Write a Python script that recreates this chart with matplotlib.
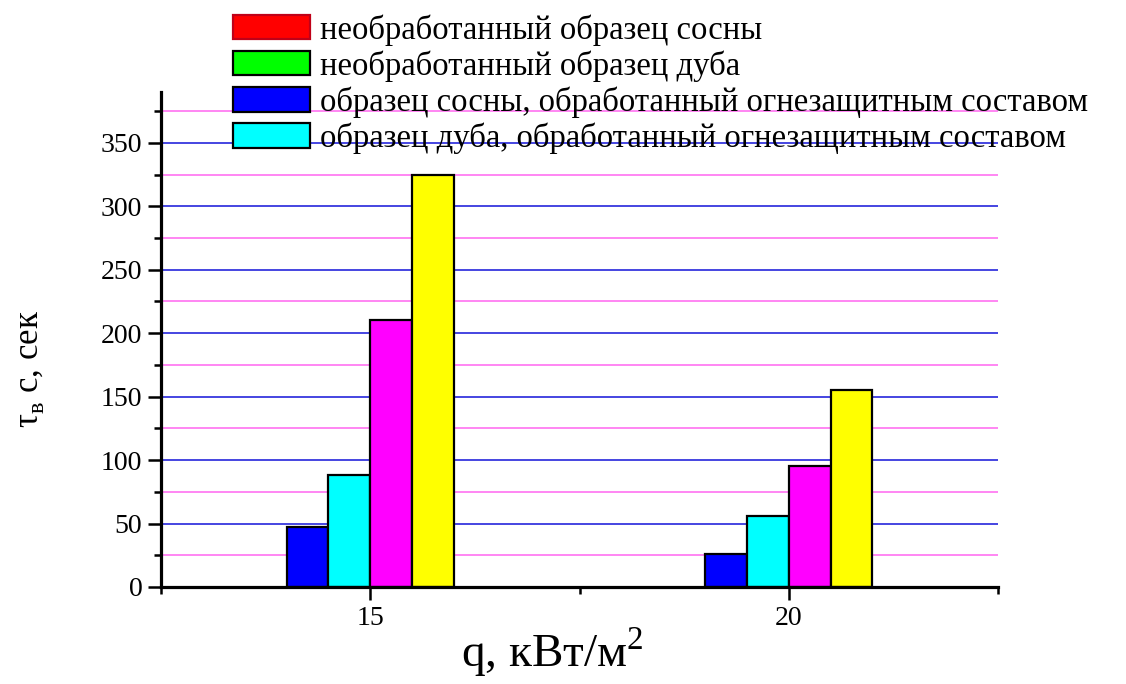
import matplotlib
matplotlib.use("Agg")
import matplotlib.pyplot as plt
from matplotlib.patches import Patch
from matplotlib.ticker import FixedLocator, NullFormatter
import numpy as np

# Heat flux levels, kW/m^2
q_values = [15, 20]
q_labels = ["15", "20"]

# Ignition time, s
pine_treated = [47, 26]
oak_treated = [88, 56]
pine_untreated = [210, 95]
oak_untreated = [325, 155]

series = [pine_treated, oak_treated, pine_untreated, oak_untreated]
bar_colors = ["#0000ff", "#00ffff", "#ff00ff", "#ffff00"]
bar_offsets = [-1.0, -0.5, 0.0, 0.5]
bar_width = 0.5

legend_labels = [
    "необработанный образец сосны",
    "необработанный образец дуба",
    "образец сосны, обработанный огнезащитным составом",
    "образец дуба, обработанный огнезащитным составом",
]
legend_colors = ["#ff0000", "#00ff00", "#0000ff", "#00ffff"]
legend_edges = ["#c00018", "black", "black", "black"]

plt.rcParams["font.family"] = ["Liberation Serif", "DejaVu Serif"]

fig = plt.figure(figsize=(11.26, 6.84), dpi=100)
ax = fig.add_axes([161 / 1126, 1 - 587 / 684, (998 - 161) / 1126, (587 - 92) / 684])

# horizontal guide lines: blue at major values, pink at the half-steps
for v in np.arange(50, 351, 50):
    ax.axhline(v, color="#1414d8", lw=1.1, zorder=1)
for v in np.arange(25, 376, 50):
    ax.axhline(v, color="#ff66f0", lw=1.1, zorder=1)

x = np.array(q_values, dtype=float)
for vals, col, off in zip(series, bar_colors, bar_offsets):
    ax.bar(x + off, vals, width=bar_width, align="edge", color=col,
           edgecolor="black", linewidth=1.6, zorder=3)

ax.set_xlim(12.5, 22.5)
ax.set_ylim(0, 390)

ax.yaxis.set_major_locator(FixedLocator(np.arange(0, 351, 50)))
ax.yaxis.set_minor_locator(FixedLocator(np.arange(25, 376, 50)))
ax.xaxis.set_major_locator(FixedLocator(q_values))
ax.xaxis.set_minor_locator(FixedLocator([12.5, 17.5, 22.5]))
ax.set_xticklabels(q_labels)
ax.xaxis.set_minor_formatter(NullFormatter())

for side in ["top", "right"]:
    ax.spines[side].set_visible(False)
for side in ["left", "bottom"]:
    ax.spines[side].set_linewidth(2.3)
    ax.spines[side].set_zorder(5)

ax.tick_params(axis="both", which="major", direction="out", length=9.5,
               width=1.8, labelsize=20, pad=4, colors="black")
ax.tick_params(axis="both", which="minor", direction="out", length=5,
               width=1.8)

# axis titles
fig.text(30 / 1126, 1 - 369 / 684, "τ$_{\\mathregular{в}}$ с, сек",
         rotation=90, ha="center", va="center", fontsize=25)
fig.text(552 / 1126, 1 - 652 / 684, "q, кВт/м$^{\\mathregular{2}}$",
         ha="center", va="center", fontsize=34)

handles = [Patch(facecolor=c, edgecolor=e, linewidth=1.6)
           for c, e in zip(legend_colors, legend_edges)]
fig.legend(handles, legend_labels, loc="upper left",
           bbox_to_anchor=(233 / 1126, 1 - 14 / 684), frameon=False,
           fontsize=23.5, handlelength=2.35, handleheight=0.78,
           handletextpad=0.33, labelspacing=0.14, borderpad=0,
           borderaxespad=0)

fig.savefig("out.png", dpi=100)
